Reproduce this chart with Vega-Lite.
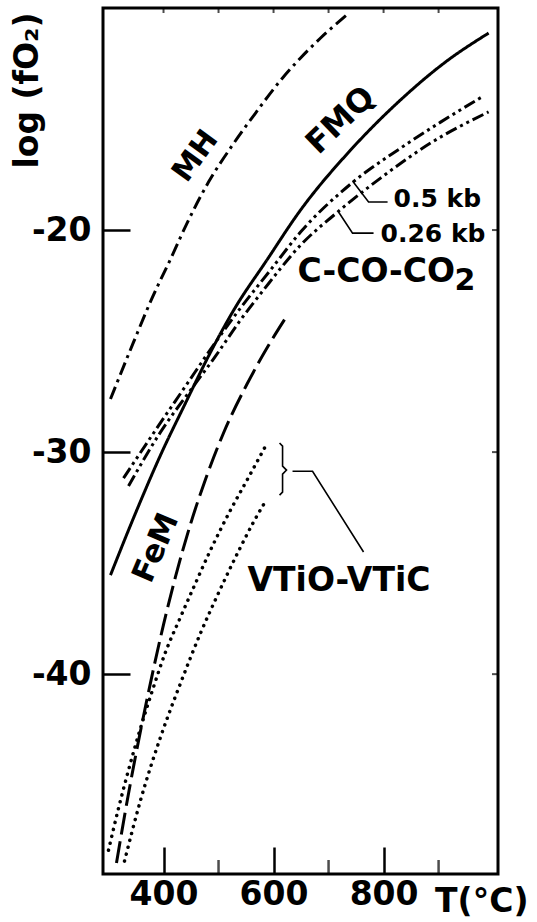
{
  "$schema": "https://vega.github.io/schema/vega-lite/v6.json",
  "width": 395,
  "height": 866,
  "autosize": {"type": "none"},
  "padding": {"left": 103, "top": 8, "right": 39, "bottom": 48},
  "background": "white",
  "config": {
    "view": {"stroke": "black", "strokeWidth": 3},
    "font": "DejaVu Sans",
    "axis": {
      "grid": false,
      "domain": false,
      "labelFont": "DejaVu Sans",
      "labelFontWeight": "bold",
      "labelFontSize": 33,
      "labelColor": "black",
      "tickColor": "black",
      "tickWidth": 2.5,
      "titleFont": "DejaVu Sans",
      "titleFontWeight": "bold",
      "titleFontSize": 33,
      "titleColor": "black",
      "labelFlush": false,
      "labelOverlap": false
    }
  },
  "datasets": {
    "curves": [
      {"c": "MH", "T": 303.6, "v": -27.61}, {"c": "MH", "T": 345.5, "v": -25.05}, {"c": "MH", "T": 380, "v": -23.02}, {"c": "MH", "T": 412.7, "v": -21.31}, {"c": "MH", "T": 445.5, "v": -19.55}, {"c": "MH", "T": 481.8, "v": -17.84}, {"c": "MH", "T": 525.5, "v": -16.17}, {"c": "MH", "T": 567.3, "v": -14.73}, {"c": "MH", "T": 616.4, "v": -13.15}, {"c": "MH", "T": 649.1, "v": -12.25}, {"c": "MH", "T": 685.5, "v": -11.35}, {"c": "MH", "T": 732.7, "v": -10.32},
      {"c": "FMQ", "T": 303.6, "v": -35.54}, {"c": "FMQ", "T": 349.1, "v": -32.75}, {"c": "FMQ", "T": 394.5, "v": -30.14}, {"c": "FMQ", "T": 440, "v": -27.79}, {"c": "FMQ", "T": 485.5, "v": -25.5}, {"c": "FMQ", "T": 530.9, "v": -23.47}, {"c": "FMQ", "T": 585.5, "v": -21.44}, {"c": "FMQ", "T": 649.1, "v": -19.1}, {"c": "FMQ", "T": 740, "v": -16.4}, {"c": "FMQ", "T": 830.9, "v": -14.14}, {"c": "FMQ", "T": 912.7, "v": -12.43}, {"c": "FMQ", "T": 990.9, "v": -11.13},
      {"c": "C05", "T": 327.3, "v": -31.17}, {"c": "C05", "T": 385.5, "v": -29.01}, {"c": "C05", "T": 440, "v": -27.03}, {"c": "C05", "T": 490.9, "v": -25.18}, {"c": "C05", "T": 540, "v": -23.51}, {"c": "C05", "T": 594.5, "v": -21.8}, {"c": "C05", "T": 649.1, "v": -20.09}, {"c": "C05", "T": 740, "v": -17.93}, {"c": "C05", "T": 830.9, "v": -16.31}, {"c": "C05", "T": 903.6, "v": -15.14}, {"c": "C05", "T": 981.8, "v": -13.96},
      {"c": "C026", "T": 336.4, "v": -31.53}, {"c": "C026", "T": 394.5, "v": -29.1}, {"c": "C026", "T": 449.1, "v": -27.21}, {"c": "C026", "T": 494.5, "v": -25.68}, {"c": "C026", "T": 540, "v": -24.05}, {"c": "C026", "T": 581.8, "v": -22.7}, {"c": "C026", "T": 649.1, "v": -20.68}, {"c": "C026", "T": 716.4, "v": -19.19}, {"c": "C026", "T": 794.5, "v": -17.66}, {"c": "C026", "T": 885.5, "v": -16.08}, {"c": "C026", "T": 990.9, "v": -14.68},
      {"c": "FeM", "T": 314.5, "v": -48.51}, {"c": "FeM", "T": 334.5, "v": -45.63}, {"c": "FeM", "T": 352.7, "v": -43.24}, {"c": "FeM", "T": 372.7, "v": -40.81}, {"c": "FeM", "T": 400, "v": -37.77}, {"c": "FeM", "T": 421.8, "v": -35.61}, {"c": "FeM", "T": 449.1, "v": -33.24}, {"c": "FeM", "T": 476.4, "v": -31.22}, {"c": "FeM", "T": 509.1, "v": -29.14}, {"c": "FeM", "T": 550.9, "v": -26.98}, {"c": "FeM", "T": 589.1, "v": -25.27}, {"c": "FeM", "T": 621.8, "v": -23.96},
      {"c": "VT1", "T": 300, "v": -47.93}, {"c": "VT1", "T": 318.2, "v": -46.04}, {"c": "VT1", "T": 336.4, "v": -44.32}, {"c": "VT1", "T": 358.2, "v": -42.43}, {"c": "VT1", "T": 380, "v": -40.72}, {"c": "VT1", "T": 403.6, "v": -39.01}, {"c": "VT1", "T": 430.9, "v": -37.43}, {"c": "VT1", "T": 458.2, "v": -35.9}, {"c": "VT1", "T": 485.5, "v": -34.41}, {"c": "VT1", "T": 521.8, "v": -32.61}, {"c": "VT1", "T": 552.7, "v": -31.22}, {"c": "VT1", "T": 585.5, "v": -29.73},
      {"c": "VT2", "T": 329.1, "v": -48.42}, {"c": "VT2", "T": 358.2, "v": -45.68}, {"c": "VT2", "T": 394.5, "v": -42.84}, {"c": "VT2", "T": 430.9, "v": -40.41}, {"c": "VT2", "T": 467.3, "v": -38.15}, {"c": "VT2", "T": 498.2, "v": -36.44}, {"c": "VT2", "T": 540, "v": -34.28}, {"c": "VT2", "T": 563.6, "v": -33.15}, {"c": "VT2", "T": 585.5, "v": -32.21}
    ],
    "leaders": [
      {"g": "brace", "i": 1, "T": 610.9, "v": -29.59}, {"g": "brace", "i": 2, "T": 616.4, "v": -29.73}, {"g": "brace", "i": 3, "T": 616.4, "v": -30.63}, {"g": "brace", "i": 4, "T": 623.6, "v": -30.81}, {"g": "brace", "i": 5, "T": 616.4, "v": -30.99}, {"g": "brace", "i": 6, "T": 616.4, "v": -31.8}, {"g": "brace", "i": 7, "T": 610.9, "v": -31.94},
      {"g": "vt", "i": 1, "T": 634.5, "v": -30.86}, {"g": "vt", "i": 2, "T": 670.9, "v": -30.86}, {"g": "vt", "i": 3, "T": 763.6, "v": -34.5},
      {"g": "k05", "i": 1, "T": 743.6, "v": -17.79}, {"g": "k05", "i": 2, "T": 772.7, "v": -18.74}, {"g": "k05", "i": 3, "T": 807.3, "v": -18.74},
      {"g": "k026", "i": 1, "T": 718.2, "v": -19.19}, {"g": "k026", "i": 2, "T": 743.6, "v": -20.14}, {"g": "k026", "i": 3, "T": 781.8, "v": -20.14}
    ],
    "labels": [
      {"label": "VTiO-VTiC", "T": 552.7, "v": -36.26},
      {"label": "C-CO-CO", "T": 643.6, "v": -22.34},
      {"label": "2", "T": 929, "v": -22.7},
      {"label": "0.5 kb", "T": 818.2, "v": -18.96},
      {"label": "0.26 kb", "T": 794.5, "v": -20.54},
      {"label": "MH", "T": 458.2, "v": -16.67},
      {"label": "FMQ", "T": 721.8, "v": -15.05},
      {"label": "FeM", "T": 387.3, "v": -34.32}
    ],
    "xminor": [{"T": 500}, {"T": 700}, {"T": 900}],
    "xtop": [{"T": 400}, {"T": 500}, {"T": 600}, {"T": 700}, {"T": 800}, {"T": 900}],
    "yright": [{"v": -20}, {"v": -30}, {"v": -40}]
  },
  "encoding": {
    "x": {"field": "T", "type": "quantitative", "scale": {"domain": [290, 1008], "nice": false, "zero": false}},
    "y": {"field": "v", "type": "quantitative", "scale": {"domain": [-49, -10], "nice": false, "zero": false}}
  },
  "layer": [
    {
      "data": {"name": "curves"},
      "transform": [{"filter": "datum.c !== 'VT1' && datum.c !== 'VT2'"}],
      "mark": {"type": "line", "color": "black", "strokeWidth": 3, "interpolate": "monotone"},
      "encoding": {
        "x": {"field": "T", "type": "quantitative", "axis": {"values": [400, 600, 800], "tickSize": -27, "labelPadding": 31, "title": "T(°C)", "titleX": 425, "titleY": 37, "titleAlign": "right", "titleBaseline": "alphabetic", "titleAngle": 0}},
        "y": {"field": "v", "type": "quantitative", "axis": {"values": [-20, -30, -40], "tickSize": -27, "labelPadding": 39, "labelExpr": "'-' + abs(datum.value)", "title": "log (fO₂)", "titleX": -66, "titleY": 82, "titleAlign": "center", "titleBaseline": "alphabetic", "titleAngle": 270}},
        "strokeDash": {"field": "c", "type": "nominal", "legend": null, "scale": {"domain": ["MH", "FMQ", "C05", "C026", "FeM"], "range": [[13, 5, 3, 5], [1, 0], [12, 4, 3, 4, 3, 4], [12, 4, 3, 4, 3, 4], [22, 7]]}}
      }
    },
    {
      "data": {"name": "curves"},
      "transform": [{"filter": "datum.c === 'VT1' || datum.c === 'VT2'"}],
      "mark": {"type": "line", "color": "black", "strokeWidth": 3.5, "strokeCap": "round", "strokeDash": [0.1, 7], "interpolate": "monotone"},
      "encoding": {"detail": {"field": "c"}}
    },
    {
      "data": {"name": "leaders"},
      "mark": {"type": "line", "color": "black", "strokeWidth": 1.6},
      "encoding": {"detail": {"field": "g"}, "order": {"field": "i", "type": "quantitative"}}
    },
    {
      "data": {"name": "xminor"},
      "mark": {"type": "tick", "orient": "vertical", "color": "black", "size": 28, "thickness": 2.5, "clip": true},
      "encoding": {"y": {"value": "height"}}
    },
    {
      "data": {"name": "xtop"},
      "mark": {"type": "tick", "orient": "vertical", "color": "black", "size": 10, "thickness": 2, "clip": true},
      "encoding": {"y": {"value": 0}}
    },
    {
      "data": {"name": "yright"},
      "mark": {"type": "tick", "orient": "horizontal", "color": "black", "size": 12, "thickness": 2, "clip": true},
      "encoding": {"x": {"value": "width"}}
    },
    {
      "data": {"name": "labels"},
      "transform": [{"filter": "datum.label === 'VTiO-VTiC' || datum.label === 'C-CO-CO'"}],
      "mark": {"type": "text", "font": "DejaVu Sans", "fontWeight": "bold", "fontSize": 33, "align": "left", "baseline": "alphabetic", "color": "black"},
      "encoding": {"text": {"field": "label"}}
    },
    {
      "data": {"name": "labels"},
      "transform": [{"filter": "datum.label === '2'"}],
      "mark": {"type": "text", "font": "DejaVu Sans", "fontWeight": "bold", "fontSize": 30, "align": "left", "baseline": "alphabetic", "color": "black"},
      "encoding": {"text": {"field": "label"}}
    },
    {
      "data": {"name": "labels"},
      "transform": [{"filter": "datum.label === '0.5 kb' || datum.label === '0.26 kb'"}],
      "mark": {"type": "text", "font": "DejaVu Sans", "fontWeight": "bold", "fontSize": 25, "align": "left", "baseline": "alphabetic", "color": "black"},
      "encoding": {"text": {"field": "label"}}
    },
    {
      "data": {"name": "labels"},
      "transform": [{"filter": "datum.label === 'MH'"}],
      "mark": {"type": "text", "font": "DejaVu Sans", "fontWeight": "bold", "fontSize": 30, "align": "center", "baseline": "middle", "angle": 306, "color": "black"},
      "encoding": {"text": {"field": "label"}}
    },
    {
      "data": {"name": "labels"},
      "transform": [{"filter": "datum.label === 'FMQ'"}],
      "mark": {"type": "text", "font": "DejaVu Sans", "fontWeight": "bold", "fontSize": 32, "align": "center", "baseline": "middle", "angle": 316, "color": "black"},
      "encoding": {"text": {"field": "label"}}
    },
    {
      "data": {"name": "labels"},
      "transform": [{"filter": "datum.label === 'FeM'"}],
      "mark": {"type": "text", "font": "DejaVu Sans", "fontWeight": "bold", "fontSize": 31, "align": "center", "baseline": "middle", "angle": 293, "color": "black"},
      "encoding": {"text": {"field": "label"}}
    }
  ]
}
